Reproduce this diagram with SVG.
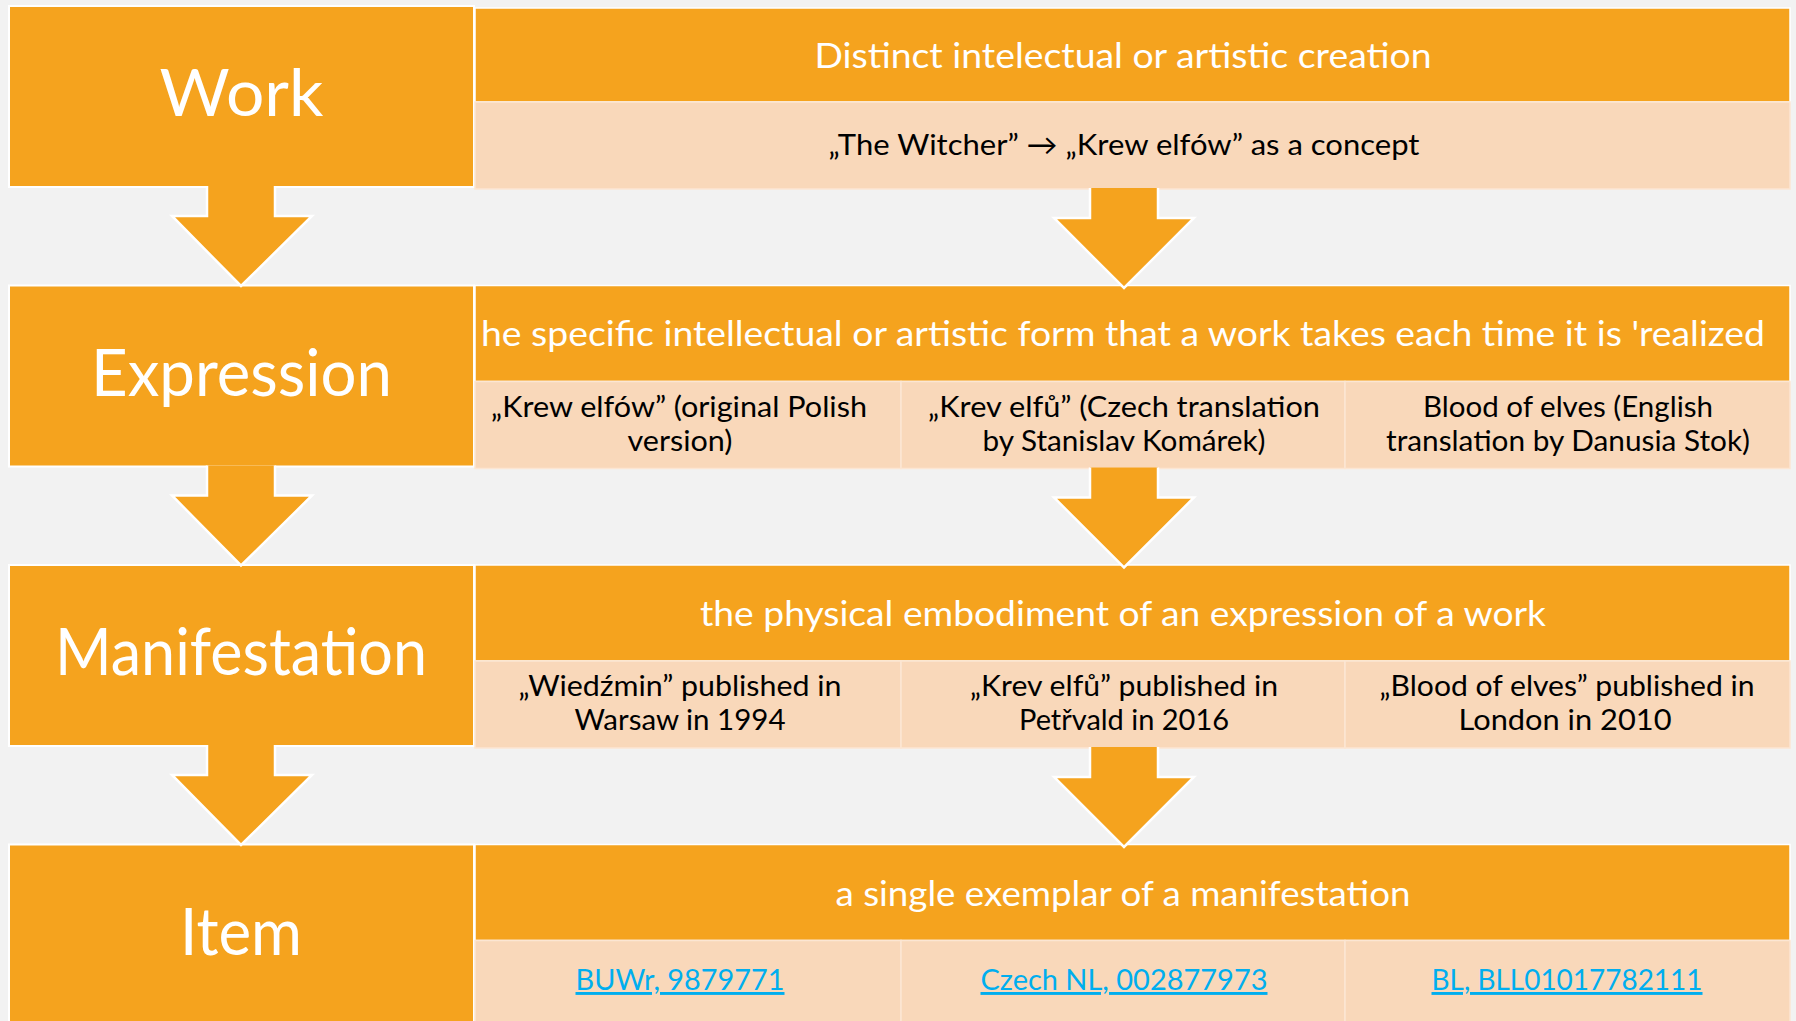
<svg xmlns="http://www.w3.org/2000/svg" width="1796" height="1021" viewBox="0 0 1796 1021">
<style>
.bg{fill:#F2F2F2}
.lbox{fill:#F5A31E;stroke:#FFFFFF;stroke-width:2}
.hdr{fill:#F5A31E;stroke:#FFFFFF;stroke-width:1.5}
.cell{fill:#F9D8BA;stroke:#FCE6D3;stroke-width:1.5}
.arrow{fill:#F5A31E;stroke:#FFFFFF;stroke-width:2.5;stroke-linejoin:miter}
text{font-family:Lato,"Open Sans","DejaVu Sans",sans-serif;text-anchor:middle}
.big{font-size:65px;fill:#FFFFFF}
.htx{font-size:35px;fill:#FFFFFF}
.ctx{font-size:29px;fill:#000000}
.lnk{font-size:29px;fill:#00AEEF;text-decoration:underline}
</style>
<rect class="bg" x="0" y="0" width="1796" height="1021"/>

<g id="work">
<rect class="lbox" x="9" y="6" width="465" height="181"/>
<text class="big" x="241.5" y="116" textLength="164" lengthAdjust="spacingAndGlyphs">Work</text>
</g>
<g id="work-desc">
<rect class="hdr" x="475" y="8" width="1315" height="94"/>
<rect class="cell" x="475" y="102" width="1315" height="87"/>
<text class="htx" x="1123" y="68" textLength="617" lengthAdjust="spacingAndGlyphs">Distinct intelectual or artistic creation</text>
<text class="ctx" x="1124" y="155" textLength="591" lengthAdjust="spacingAndGlyphs">„The Witcher” → „Krew elfów” as a concept</text>
</g>

<g id="expression">
<rect class="lbox" x="9" y="285.5" width="465" height="181"/>
<text class="big" x="241.5" y="395.5" textLength="301" lengthAdjust="spacingAndGlyphs">Expression</text>
</g>
<g id="expression-desc">
<rect class="hdr" x="475" y="285.5" width="1315" height="96"/>
<rect class="cell" x="475" y="381.5" width="426" height="87"/>
<rect class="cell" x="901" y="381.5" width="444" height="87"/>
<rect class="cell" x="1345" y="381.5" width="445" height="87"/>
<text class="htx" x="1123" y="346" textLength="1284" lengthAdjust="spacingAndGlyphs">he specific intellectual or artistic form that a work takes each time it is 'realized</text>
<text class="ctx" x="679" y="417" textLength="376" lengthAdjust="spacingAndGlyphs">„Krew elfów” (original Polish</text>
<text class="ctx" x="680" y="451" textLength="105" lengthAdjust="spacingAndGlyphs">version)</text>
<text class="ctx" x="1124" y="417" textLength="392" lengthAdjust="spacingAndGlyphs">„Krev elfů” (Czech translation</text>
<text class="ctx" x="1124" y="451" textLength="283" lengthAdjust="spacingAndGlyphs">by Stanislav Komárek)</text>
<text class="ctx" x="1568" y="417" textLength="290" lengthAdjust="spacingAndGlyphs">Blood of elves (English</text>
<text class="ctx" x="1568" y="451" textLength="364" lengthAdjust="spacingAndGlyphs">translation by Danusia Stok)</text>
</g>

<g id="manifestation">
<rect class="lbox" x="9" y="565" width="465" height="181"/>
<text class="big" x="241" y="675" textLength="372" lengthAdjust="spacingAndGlyphs">Manifestation</text>
</g>
<g id="manifestation-desc">
<rect class="hdr" x="475" y="565" width="1315" height="96"/>
<rect class="cell" x="475" y="661" width="426" height="87"/>
<rect class="cell" x="901" y="661" width="444" height="87"/>
<rect class="cell" x="1345" y="661" width="445" height="87"/>
<text class="htx" x="1123" y="626" textLength="846" lengthAdjust="spacingAndGlyphs">the physical embodiment of an expression of a work</text>
<text class="ctx" x="680" y="696" textLength="323" lengthAdjust="spacingAndGlyphs">„Wiedźmin” published in</text>
<text class="ctx" x="680" y="730" textLength="211" lengthAdjust="spacingAndGlyphs">Warsaw in 1994</text>
<text class="ctx" x="1124" y="696" textLength="308" lengthAdjust="spacingAndGlyphs">„Krev elfů” published in</text>
<text class="ctx" x="1124" y="730" textLength="210" lengthAdjust="spacingAndGlyphs">Petřvald in 2016</text>
<text class="ctx" x="1567" y="696" textLength="375" lengthAdjust="spacingAndGlyphs">„Blood of elves” published in</text>
<text class="ctx" x="1565" y="730" textLength="213" lengthAdjust="spacingAndGlyphs">London in 2010</text>
</g>

<g id="item">
<rect class="lbox" x="9" y="844.5" width="465" height="190"/>
<text class="big" x="241" y="955" textLength="122" lengthAdjust="spacingAndGlyphs">Item</text>
</g>
<g id="item-desc">
<rect class="hdr" x="475" y="844.5" width="1315" height="96"/>
<rect class="cell" x="475" y="940.5" width="426" height="95"/>
<rect class="cell" x="901" y="940.5" width="444" height="95"/>
<rect class="cell" x="1345" y="940.5" width="445" height="95"/>
<text class="htx" x="1123" y="906" textLength="575" lengthAdjust="spacingAndGlyphs">a single exemplar of a manifestation</text>
<text class="lnk" x="680" y="990" textLength="209" lengthAdjust="spacingAndGlyphs">BUWr, 9879771</text>
<text class="lnk" x="1124" y="990" textLength="287" lengthAdjust="spacingAndGlyphs">Czech NL, 002877973</text>
<text class="lnk" x="1567" y="990" textLength="271" lengthAdjust="spacingAndGlyphs">BL, BLL01017782111</text>
</g>

<g id="connectors">
<path class="arrow" d="M207,186 V216 H172 L241,286 L312,216 H275 V186"/>
<path class="arrow" d="M1090,188 V218 H1054 L1124,288 L1194,218 H1158 V188"/>
<path class="arrow" d="M207,465.5 V495.5 H172 L241,565.5 L312,495.5 H275 V465.5"/>
<path class="arrow" d="M1090,467.5 V497.5 H1054 L1124,567.5 L1194,497.5 H1158 V467.5"/>
<path class="arrow" d="M207,745 V775 H172 L241,845 L312,775 H275 V745"/>
<path class="arrow" d="M1090,747 V777 H1054 L1124,847 L1194,777 H1158 V747"/>
</g>
</svg>
